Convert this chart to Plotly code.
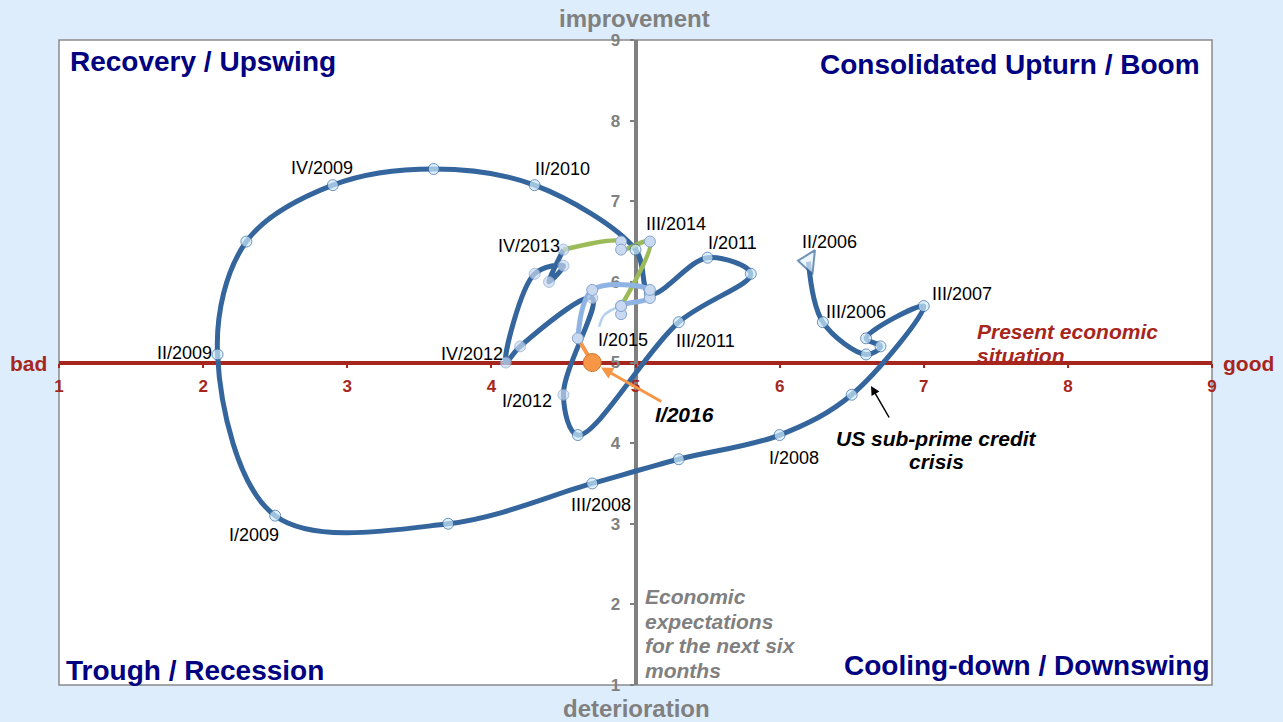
import plotly.graph_objects as go

# ---------------- data ----------------
dark_quarters = ["II/2006", "III/2006", "IV/2006", "I/2007", "II/2007", "III/2007", "IV/2007",
                 "I/2008", "II/2008", "III/2008", "IV/2008", "I/2009", "II/2009", "III/2009",
                 "IV/2009", "I/2010", "II/2010", "III/2010", "IV/2010", "I/2011", "II/2011",
                 "III/2011", "IV/2011", "I/2012", "II/2012", "III/2012", "IV/2012", "I/2013",
                 "II/2013", "III/2013", "IV/2013"]
dark_x = [6.2, 6.3, 6.6, 6.7, 6.6, 7.0, 6.5, 6.0, 5.3, 4.7, 3.7, 2.5, 2.1, 2.3, 2.9, 3.6, 4.3,
          5.0, 5.1, 5.5, 5.8, 5.3, 4.6, 4.5, 4.7, 4.2, 4.1, 4.3, 4.5, 4.4, 4.5]
dark_y = [6.25, 5.5, 5.1, 5.2, 5.3, 5.7, 4.6, 4.1, 3.8, 3.5, 3.0, 3.1, 5.1, 6.5, 7.2, 7.4, 7.2,
          6.4, 5.85, 6.3, 6.1, 5.5, 4.1, 4.6, 5.8, 5.2, 5.0, 6.1, 6.2, 6.0, 6.4]

green_quarters = ["IV/2013", "I/2014", "II/2014", "III/2014", "IV/2014"]
green_x = [4.5, 4.9, 4.9, 5.1, 4.9]
green_y = [6.4, 6.5, 6.4, 6.5, 5.7]

light_quarters = ["I/2015", "IV/2014", "II/2015", "III/2015", "IV/2015", "IV/2015b"]
light_x = [4.9, 4.9, 5.1, 5.1, 4.7, 4.6]
light_y = [5.6, 5.7, 5.8, 5.9, 5.9, 5.3]

arc_x = [4.748, 4.783, 4.876]
arc_y = [5.444, 5.589, 5.685]

orange_quarters = ["IV/2015b", "I/2016"]
orange_x = [4.6, 4.7]
orange_y = [5.3, 5.0]

tick_values = [1, 2, 3, 4, 5, 6, 7, 8, 9]
tick_labels = ["1", "2", "3", "4", "5", "6", "7", "8", "9"]

# ---------------- styling ----------------
FONT = "Liberation Sans, Arial, sans-serif"
W, H = 1283, 722
L, R, T, B = 59, 71, 40, 37
PW, PH = W - L - R, H - T - B


def fx(px):
    return (px - L) / PW


def fy(py):
    return 1 - (py - T) / PH


DARK = "#34659c"
GREEN = "#9bbb59"
LIGHT = "#8fb4e3"
ARC = "#b4d0f0"
ORANGE = "#f79646"
CYAN_FILL = "#cce9fb"
GREY_FILL = "#c9d9f0"
GREY_EDGE = "#86a4cf"
RED = "#a6261d"
GRAY = "#808080"
NAVY = "#000080"
BG = "#deedfc"

fig = go.Figure()

# lines
fig.add_trace(go.Scatter(x=dark_x, y=dark_y, mode="lines",
                         line=dict(color=DARK, width=5, shape="spline", smoothing=1),
                         hoverinfo="skip"))
fig.add_trace(go.Scatter(x=green_x, y=green_y, mode="lines",
                         line=dict(color=GREEN, width=4.5, shape="spline", smoothing=1),
                         hoverinfo="skip"))
fig.add_trace(go.Scatter(x=light_x, y=light_y, mode="lines",
                         line=dict(color=LIGHT, width=5, shape="spline", smoothing=1),
                         hoverinfo="skip"))
fig.add_trace(go.Scatter(x=arc_x, y=arc_y, mode="lines",
                         line=dict(color=ARC, width=2.5, shape="spline", smoothing=1),
                         hoverinfo="skip"))
fig.add_trace(go.Scatter(x=orange_x, y=orange_y, mode="lines",
                         line=dict(color=ORANGE, width=4),
                         hoverinfo="skip"))

# markers
early = ("2006", "2007", "2008", "2009", "2010", "2011")
d_fill = [CYAN_FILL if q.endswith(early) else GREY_FILL for q in dark_quarters]
d_edge = [DARK if q.endswith(early) else GREY_EDGE for q in dark_quarters]
d_sym = ["triangle-left" if i == 0 else "circle" for i in range(len(dark_quarters))]
d_size = [21 if i == 0 else 11 for i in range(len(dark_quarters))]
d_lw = [2 if i == 0 else 1 for i in range(len(dark_quarters))]
d_fill[0] = "#e4f2fc"
fig.add_trace(go.Scatter(x=dark_x, y=dark_y, mode="markers",
                         marker=dict(symbol=d_sym, size=d_size, color=d_fill, angle=6,
                                     line=dict(color=d_edge, width=d_lw)),
                         hoverinfo="skip"))
fig.add_trace(go.Scatter(x=green_x[1:], y=green_y[1:], mode="markers",
                         marker=dict(size=11, color=GREY_FILL, line=dict(color=GREY_EDGE, width=1)),
                         hoverinfo="skip"))
fig.add_trace(go.Scatter(x=light_x, y=light_y, mode="markers",
                         marker=dict(size=11, color=GREY_FILL, line=dict(color=GREY_EDGE, width=1)),
                         hoverinfo="skip"))
fig.add_trace(go.Scatter(x=orange_x[-1:], y=orange_y[-1:], mode="markers",
                         marker=dict(size=18, color=ORANGE, line=dict(color="#c8782f", width=1)),
                         hoverinfo="skip"))

# ---------------- point labels ----------------
points = {}
for q, x, y in zip(dark_quarters, dark_x, dark_y):
    points[q] = (x, y)
for q, x, y in zip(green_quarters, green_x, green_y):
    points.setdefault(q, (x, y))
for q, x, y in zip(light_quarters, light_x, light_y):
    points.setdefault(q, (x, y))

# label: (anchor, dx, dy) in screen pixels, dy positive = down
label_pos = {
    "II/2006": ("center", 21, -20),
    "III/2006": ("left", 1, -10),
    "III/2007": ("left", 6, -12),
    "I/2008": ("center", 14, 23),
    "III/2008": ("center", 9, 22),
    "I/2009": ("center", -21, 19),
    "II/2009": ("right", -4, -1),
    "IV/2009": ("center", -11, -17),
    "II/2010": ("left", -2, -16),
    "I/2011": ("left", -2, -15),
    "III/2011": ("left", -5, 19),
    "I/2012": ("right", -9, 6),
    "IV/2012": ("right", -1, -9),
    "IV/2013": ("right", -1, -4),
    "III/2014": ("left", -6, -18),
    "I/2015": ("center", 2, 26),
}

ann = []
for q, (anc, dx, dy) in label_pos.items():
    x, y = points[q]
    ann.append(dict(x=x, y=y, xref="x", yref="y", text=q, showarrow=False,
                    xanchor=anc, yanchor="middle", xshift=dx, yshift=-dy,
                    font=dict(family=FONT, size=18, color="black")))

# I/2016 with orange arrow
ann.append(dict(x=orange_x[-1], y=orange_y[-1], xref="x", yref="y", text="<b><i>I/2016</i></b>",
                showarrow=True, ax=92, ay=52, arrowcolor=ORANGE, arrowwidth=3, arrowhead=2,
                arrowsize=0.8, standoff=10,
                font=dict(family=FONT, size=21, color="black")))

# US sub-prime arrow + text
ann.append(dict(x=fx(871), y=fy(386), xref="paper", yref="paper", text="",
                showarrow=True, ax=19, ay=33, arrowcolor="black", arrowwidth=1.5,
                arrowhead=2, arrowsize=1.2))
for txt, py in [("US sub-prime credit", 438), ("crisis", 461)]:
    ann.append(dict(x=fx(936), y=fy(py), xref="paper", yref="paper", text="<b><i>%s</i></b>" % txt,
                    showarrow=False, xanchor="center", yanchor="middle",
                    font=dict(family=FONT, size=21, color="black")))

# Present economic situation
for txt, py in [("Present economic", 331), ("situation", 355)]:
    ann.append(dict(x=fx(975), y=fy(py), xref="paper", yref="paper", text="<b><i>%s</i></b>" % txt,
                    showarrow=False, xanchor="left", yanchor="middle",
                    font=dict(family=FONT, size=21, color=RED)))

# Economic expectations
for txt, py in [("Economic", 596), ("expectations", 621), ("for the next six", 645), ("months", 670)]:
    ann.append(dict(x=fx(643), y=fy(py), xref="paper", yref="paper", text="<b><i>%s</i></b>" % txt,
                    showarrow=False, xanchor="left", yanchor="middle",
                    font=dict(family=FONT, size=21, color=GRAY)))

# quadrant titles
quad = [("Recovery / Upswing", 68, 62, "left"),
        ("Consolidated Upturn / Boom", 1202, 65, "right"),
        ("Trough / Recession", 64, 670, "left"),
        ("Cooling-down / Downswing", 1212, 665, "right")]
for txt, px, py, anc in quad:
    ann.append(dict(x=fx(px), y=fy(py), xref="paper", yref="paper", text="<b>%s</b>" % txt,
                    showarrow=False, xanchor=anc, yanchor="middle",
                    font=dict(family=FONT, size=28, color=NAVY)))

# axis end texts
for txt, px, py, col, sz in [("improvement", 634, 18, GRAY, 24), ("deterioration", 636, 708, GRAY, 24),
                             ("bad", 28, 363, RED, 21), ("good", 1248, 363, RED, 21)]:
    ann.append(dict(x=fx(px), y=fy(py), xref="paper", yref="paper", text="<b>%s</b>" % txt,
                    showarrow=False, xanchor="center", yanchor="middle",
                    font=dict(family=FONT, size=sz, color=col)))

fig.update_layout(
    width=W, height=H,
    margin=dict(l=L, r=R, t=T, b=B, pad=0),
    paper_bgcolor=BG, plot_bgcolor="white",
    showlegend=False,
    annotations=ann,
    shapes=[dict(type="rect", xref="paper", yref="paper", x0=0, x1=1, y0=0, y1=1,
                 line=dict(color="#8a8a8a", width=1.5), layer="below")],
    xaxis=dict(range=[1, 9], anchor="free", position=0.5, showgrid=False, zeroline=False,
               showline=True, linecolor=RED, linewidth=3.5, layer="below traces",
               ticks="outside", ticklen=4, tickwidth=2, tickcolor=RED,
               tickvals=tick_values, ticktext=tick_labels, ticklabelstandoff=3,
               tickfont=dict(family=FONT, size=17, color=RED, weight="bold")),
    yaxis=dict(range=[1, 9], anchor="free", position=0.5, showgrid=False, zeroline=False,
               showline=True, linecolor=GRAY, linewidth=4, layer="below traces",
               ticks="outside", ticklen=4, tickwidth=2, tickcolor=GRAY,
               tickvals=tick_values, ticktext=tick_labels, ticklabelstandoff=6,
               tickfont=dict(family=FONT, size=17, color=GRAY, weight="bold")),
)

fig.write_html("out.html")
